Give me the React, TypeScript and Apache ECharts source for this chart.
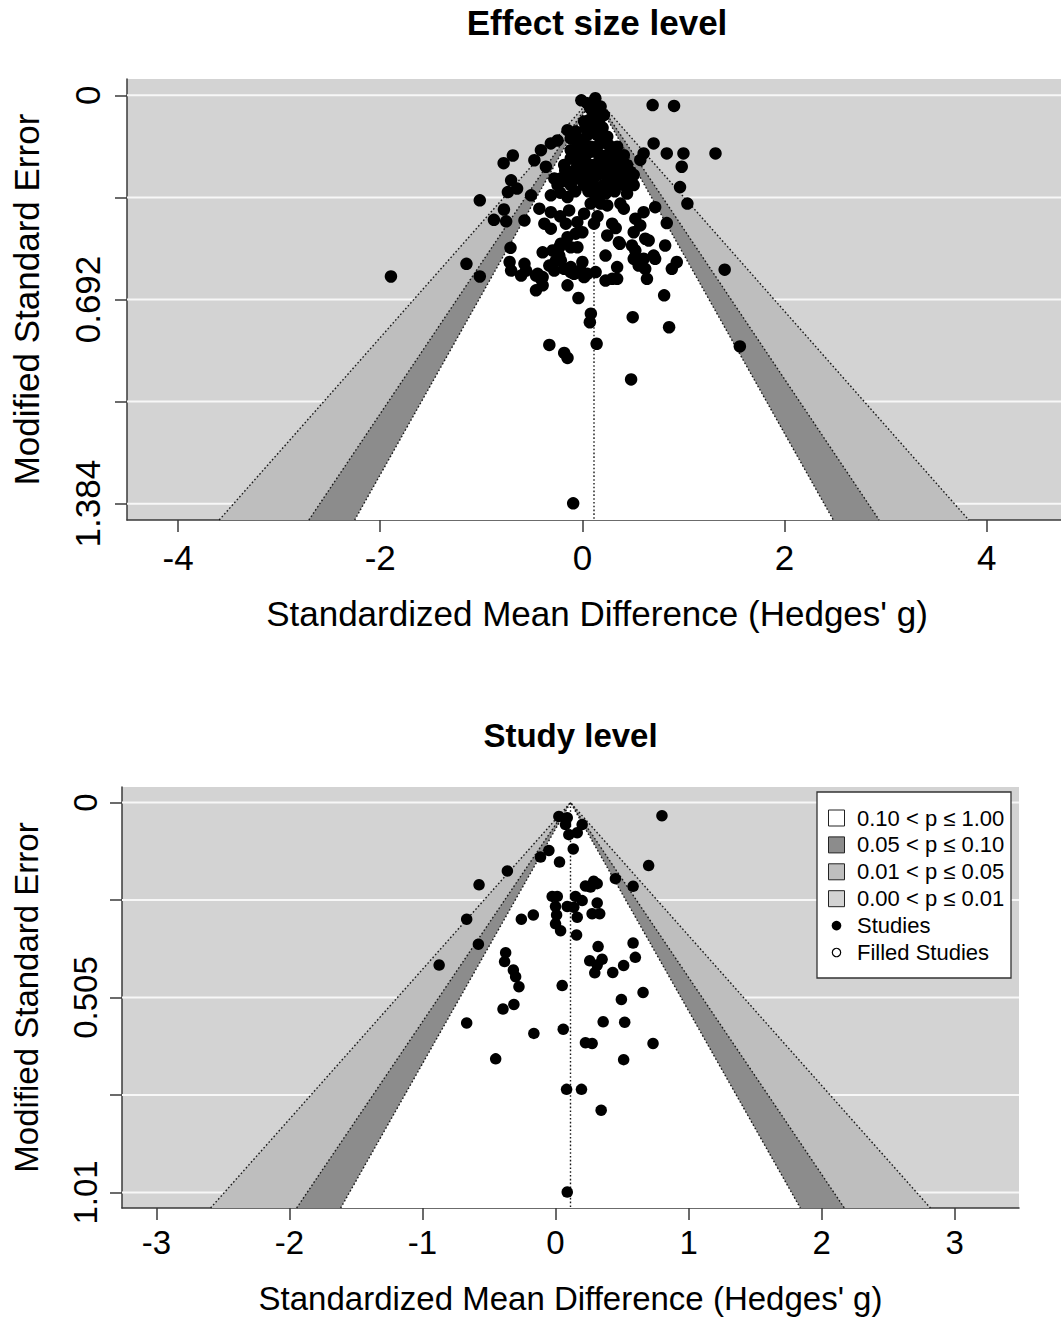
import React, { useEffect, useRef } from "react";
import * as echarts from "echarts";

const FONT = '"Liberation Sans", Arial, Helvetica, sans-serif';

// ---------- Panel 1: Effect size level ----------
const topTitle = "Effect size level";
const topCenter = 0.115;
const topSeMax = 1.384;
const topXTicks = [-4, -2, 0, 2, 4];
const topYTicks = [0, 0.346, 0.692, 1.038, 1.384];
const topYLabels = [0, 0.692, 1.384];
const topPoints: [number, number][] = [
  [0.695, 0.033], [0.907, 0.036], [0.705, 0.163], [0.835, 0.197], [1.0, 0.197], [1.317, 0.197], [0.983, 0.242], [0.966, 0.311], [1.039, 0.367], [0.835, 0.433], [0.606, 0.197], [0.573, 0.219],
  [0.72, 0.379], [0.606, 0.396], [0.524, 0.418], [0.573, 0.441], [0.442, 0.333], [0.376, 0.367], [0.41, 0.384], [0.295, 0.435], [0.246, 0.475], [0.361, 0.498], [0.508, 0.464], [0.491, 0.509], [0.524, 0.526], [0.622, 0.486], [0.656, 0.492], [0.508, 0.554], [0.606, 0.554], [0.705, 0.543], [0.557, 0.577], [0.622, 0.588], [0.639, 0.622], [0.819, 0.509], [0.934, 0.565], [0.885, 0.588], [0.229, 0.543], [0.344, 0.582], [0.295, 0.622], [0.344, 0.622], [0.115, 0.435], [0.131, 0.599], [0.72, 0.554], [0.371, 0.503],
  [-0.312, 0.339], [-0.508, 0.339], [-0.426, 0.384], [-0.312, 0.396], [-0.376, 0.435], [-0.312, 0.452], [-0.573, 0.424], [-0.147, 0.345], [-0.131, 0.39], [-0.164, 0.435], [-0.147, 0.481], [-0.115, 0.515], [-0.066, 0.469], [0.0, 0.464], [0.017, 0.401], [0.082, 0.367], [0.131, 0.345], [0.18, 0.367], [0.246, 0.373], [0.229, 0.333],
  [-0.393, 0.532], [-0.295, 0.526], [-0.229, 0.515], [-0.573, 0.571], [-0.557, 0.594], [-0.442, 0.605], [-0.393, 0.616], [-0.278, 0.594], [-0.18, 0.588], [-0.115, 0.599], [-0.017, 0.594], [0.017, 0.616], [-0.147, 0.644], [0.229, 0.628],
  [-0.688, 0.204], [-0.779, 0.23], [-0.475, 0.22], [-0.705, 0.288], [-0.737, 0.328], [-0.646, 0.316], [-1.015, 0.356], [-0.776, 0.387], [-0.875, 0.422], [-0.754, 0.427], [-0.711, 0.517], [-1.894, 0.614], [-1.147, 0.571], [-1.015, 0.614], [-0.72, 0.565], [-0.705, 0.594], [-0.606, 0.611], [-0.41, 0.622], [-0.459, 0.661], [-0.262, 0.56], [-0.327, 0.577], [-0.229, 0.543], [-0.393, 0.644],
  [-0.039, 0.687], [0.084, 0.74], [0.074, 0.769], [0.498, 0.752], [0.809, 0.678], [0.858, 0.786], [0.141, 0.842], [1.408, 0.591], [1.558, 0.851], [-0.327, 0.846], [-0.18, 0.873], [-0.147, 0.89], [0.482, 0.963], [-0.091, 1.383],
  [-0.213, 0.503], [-0.049, 0.515], [-0.213, 0.56], [-0.115, 0.582], [-0.082, 0.605], [0.0, 0.565], [0.049, 0.605], [-0.459, 0.611],
  [0.049, 0.027], [0.115, 0.021], [0.18, 0.038], [0.098, 0.05], [0.147, 0.067], [0.066, 0.084], [0.164, 0.089], [0.213, 0.067], [0.017, 0.089], [0.098, 0.118], [0.049, 0.135], [0.147, 0.135], [-0.147, 0.118], [-0.066, 0.123], [-0.115, 0.146], [0.246, 0.14], [0.262, 0.169], [0.344, 0.174], [0.41, 0.203], [-0.049, 0.169], [0.017, 0.169], [0.082, 0.174], [0.147, 0.174], [-0.115, 0.186], [-0.049, 0.197], [0.049, 0.197], [-0.18, 0.236], [-0.115, 0.214], [-0.049, 0.236], [0.049, 0.231], [0.115, 0.236], [0.18, 0.203], [0.246, 0.203], [0.312, 0.214], [0.344, 0.236], [0.442, 0.236], [0.475, 0.259], [0.278, 0.259], [0.213, 0.236],
  [-0.213, 0.282], [-0.131, 0.276], [-0.049, 0.282], [0.049, 0.276], [0.147, 0.27], [0.246, 0.282], [0.344, 0.276], [0.442, 0.282], [0.508, 0.27], [-0.246, 0.304], [-0.115, 0.304], [0.017, 0.304], [0.115, 0.304], [0.213, 0.304], [0.312, 0.304], [0.41, 0.304], [0.508, 0.304],
  [-0.312, 0.163], [-0.41, 0.186], [-0.361, 0.242], [-0.278, 0.282], [-0.01, 0.017], [0.128, 0.01], [-0.246, 0.153],
  [0.08, 0.045], [0.14, 0.1], [0.2, 0.11], [0.03, 0.11], [-0.03, 0.15], [0.2, 0.16], [0.3, 0.19], [0.1, 0.19], [0.0, 0.22], [0.17, 0.22], [0.28, 0.23], [0.38, 0.21], [-0.17, 0.255], [-0.08, 0.255], [0.0, 0.255], [0.09, 0.255], [0.19, 0.255], [0.29, 0.255], [0.39, 0.255], [0.47, 0.285], [-0.18, 0.29], [0.07, 0.29], [0.27, 0.29], [-0.07, 0.325], [0.06, 0.325], [0.17, 0.32], [0.32, 0.325], [-0.22, 0.33], [-0.22, 0.41], [0.15, 0.41], [0.33, 0.45], [-0.05, 0.43],
];

// ---------- Panel 2: Study level ----------
const botTitle = "Study level";
const botCenter = 0.1125;
const botSeMax = 1.01;
const botXTicks = [-3, -2, -1, 0, 1, 2, 3];
const botYTicks = [0, 0.2525, 0.505, 0.7575, 1.01];
const botYLabels = [0, 0.505, 1.01];
const botPoints: [number, number][] = [
  [0.8, 0.034], [0.025, 0.036], [0.088, 0.039], [0.075, 0.057], [0.2, 0.057], [0.1, 0.083], [0.163, 0.078], [0.133, 0.12], [-0.05, 0.124], [-0.113, 0.141],
  [0.03, 0.154], [0.7, 0.163], [-0.362, 0.177], [-0.575, 0.213], [0.45, 0.197], [0.583, 0.217], [0.225, 0.216], [0.287, 0.204], [0.313, 0.21], [0.263, 0.219],
  [-0.025, 0.243], [0.013, 0.243], [0.15, 0.243], [0.2, 0.254], [0.088, 0.269], [0.137, 0.271], [0.313, 0.26], [0.0, 0.269], [0.008, 0.291], [-0.668, 0.302],
  [-0.257, 0.302], [-0.167, 0.291], [0.163, 0.297], [0.275, 0.288], [0.332, 0.288], [0.0, 0.314], [0.038, 0.332], [0.158, 0.343], [-0.58, 0.367], [0.32, 0.373],
  [0.583, 0.364], [-0.375, 0.389], [-0.383, 0.412], [0.257, 0.41], [0.35, 0.406], [0.313, 0.421], [0.6, 0.401], [0.512, 0.422], [-0.875, 0.421], [0.295, 0.441],
  [0.43, 0.44], [-0.317, 0.434], [-0.3, 0.451], [-0.275, 0.477], [0.05, 0.474], [0.495, 0.51], [0.658, 0.492], [-0.313, 0.523], [-0.395, 0.535], [-0.668, 0.571],
  [0.358, 0.568], [0.52, 0.569], [0.058, 0.587], [-0.163, 0.598], [0.225, 0.622], [0.275, 0.624], [0.733, 0.624], [-0.45, 0.664], [0.512, 0.666], [0.083, 0.743],
  [0.195, 0.743], [0.343, 0.797], [0.088, 1.009],
];

// ---------- shared ----------
const xTitle = "Standardized Mean Difference (Hedges' g)";
const yTitle = "Modified Standard Error";
const levelNames = ["0.01 < p ≤ 0.05", "0.05 < p ≤ 0.10", "0.10 < p ≤ 1.00"];
const levelZ = [2.576, 1.96, 1.645];
const levelColors = ["#bebebe", "#8c8c8c", "#ffffff"];
const bgColor = "#d3d3d3";
const legendLabels = ["0.10 < p ≤ 1.00", "0.05 < p ≤ 0.10", "0.01 < p ≤ 0.05", "0.00 < p ≤ 0.01", "Studies", "Filled Studies"];
const legendFills = ["#ffffff", "#8c8c8c", "#bebebe", "#d3d3d3"];

const AXIS_COLOR = "#3a3a3a";
const DOT_DASH = [1.6, 2.2];
const DOT_COLOR = "#1a1a1a";

type PanelCfg = {
  gi: number;
  center: number;
  seMax: number;
  xTicks: number[];
  yTicks: number[];
  yLabels: number[];
  points: [number, number][];
  grid: { left: number; top: number; width: number; height: number };
  fontSize: number;
  pointSize: number;
  xLabelMargin: number;
  yLabelMargin: number;
  tickLen: number;
};

function buildPanel(cfg: PanelCfg) {
  const { gi, center, seMax } = cfg;
  const half = levelZ[0] * seMax * 1.2 * 1.08;
  const xMin = center - half;
  const xMax = center + half;
  const yMin = -0.04 * seMax;
  const yMax = 1.04 * seMax;

  const grid = {
    ...cfg.grid,
    show: true,
    backgroundColor: bgColor,
    borderWidth: 0,
    containLabel: false,
  };

  const xAxis = {
    gridIndex: gi,
    type: "value",
    min: xMin,
    max: xMax,
    axisLine: { show: true, onZero: false, lineStyle: { color: AXIS_COLOR, width: 1.5 } },
    axisTick: { show: true, customValues: cfg.xTicks, length: cfg.tickLen, lineStyle: { color: AXIS_COLOR, width: 1.5 } },
    axisLabel: {
      customValues: cfg.xTicks,
      fontSize: cfg.fontSize,
      fontFamily: FONT,
      color: "#000",
      margin: cfg.xLabelMargin,
      formatter: (v: number) => String(v),
    },
    splitLine: { show: false },
  };

  const yAxis = {
    gridIndex: gi,
    type: "value",
    inverse: true,
    min: yMin,
    max: yMax,
    axisLine: { show: true, onZero: false, lineStyle: { color: AXIS_COLOR, width: 1.5 } },
    axisTick: { show: true, customValues: cfg.yTicks, length: cfg.tickLen, lineStyle: { color: AXIS_COLOR, width: 1.5 } },
    axisLabel: {
      customValues: cfg.yLabels,
      rotate: 90,
      fontSize: cfg.fontSize,
      fontFamily: FONT,
      color: "#000",
      margin: cfg.yLabelMargin,
      formatter: (v: number) => String(v),
    },
    splitLine: { show: false },
  };

  const series: any[] = [];

  // white horizontal reference lines at the y ticks
  series.push({
    type: "custom",
    xAxisIndex: gi,
    yAxisIndex: gi,
    z: 1,
    silent: true,
    data: cfg.yTicks.map((v) => [center, v]),
    encode: { x: 0, y: 1 },
    renderItem: (params: any, api: any) => {
      const cs = params.coordSys;
      const p = api.coord([center, api.value(1)]);
      return {
        type: "line",
        shape: { x1: cs.x, y1: p[1], x2: cs.x + cs.width, y2: p[1] },
        style: { stroke: "#f7f7f7", lineWidth: 2 },
      };
    },
  });

  // funnel regions
  levelZ.forEach((z, i) => {
    series.push({
      type: "custom",
      name: levelNames[i],
      xAxisIndex: gi,
      yAxisIndex: gi,
      z: 2 + i,
      silent: true,
      data: [[center, 0, z]],
      encode: { x: 0, y: 1 },
      renderItem: (params: any, api: any) => {
        const c = api.value(0);
        const zz = api.value(2);
        const a = api.coord([c - zz * yMax, yMax]);
        const t = api.coord([c, 0]);
        const b = api.coord([c + zz * yMax, yMax]);
        return {
          type: "group",
          children: [
            { type: "polygon", shape: { points: [a, t, b] }, style: { fill: levelColors[i], stroke: null } },
            {
              type: "polyline",
              shape: { points: [a, t, b] },
              style: { fill: null, stroke: DOT_COLOR, lineWidth: 1.4, lineDash: DOT_DASH },
            },
          ],
        };
      },
    });
  });

  // reference (centre) line
  series.push({
    type: "custom",
    xAxisIndex: gi,
    yAxisIndex: gi,
    z: 6,
    silent: true,
    data: [[center, 0]],
    encode: { x: 0, y: 1 },
    renderItem: (params: any, api: any) => {
      const c = api.value(0);
      const p1 = api.coord([c, 0]);
      const p2 = api.coord([c, yMax]);
      return {
        type: "line",
        shape: { x1: p1[0], y1: p1[1], x2: p2[0], y2: p2[1] },
        style: { stroke: DOT_COLOR, lineWidth: 1.4, lineDash: DOT_DASH },
      };
    },
  });

  // studies
  series.push({
    type: "scatter",
    name: "Studies",
    xAxisIndex: gi,
    yAxisIndex: gi,
    z: 10,
    symbol: "circle",
    symbolSize: cfg.pointSize,
    itemStyle: { color: "#000", opacity: 1 },
    data: cfg.points,
    silent: true,
  });

  return { grid, xAxis, yAxis, series };
}

export default function App() {
  const ref = useRef<HTMLDivElement>(null);

  useEffect(() => {
    document.body.style.margin = "0";
    if (!ref.current) return;
    const chart = echarts.init(ref.current, undefined, { renderer: "svg" });

    const p1 = buildPanel({
      gi: 0,
      center: topCenter,
      seMax: topSeMax,
      xTicks: topXTicks,
      yTicks: topYTicks,
      yLabels: topYLabels,
      points: topPoints,
      grid: { left: 127, top: 79, width: 940, height: 441 },
      fontSize: 35,
      pointSize: 12.5,
      xLabelMargin: 20,
      yLabelMargin: 22,
      tickLen: 12,
    });
    const p2 = buildPanel({
      gi: 1,
      center: botCenter,
      seMax: botSeMax,
      xTicks: botXTicks,
      yTicks: botYTicks,
      yLabels: botYLabels,
      points: botPoints,
      grid: { left: 122, top: 787, width: 897, height: 421 },
      fontSize: 33,
      pointSize: 11.5,
      xLabelMargin: 18,
      yLabelMargin: 20,
      tickLen: 12,
    });

    const t1x = 127 + 940 / 2;
    const t2x = 122 + 897 / 2;

    const textEl = (text: string, x: number, y: number, size: number, bold = false, rot = 0) => ({
      type: "text",
      x,
      y,
      z: 100,
      rotation: rot,
      silent: true,
      style: {
        text,
        fill: "#000",
        font: `${bold ? "bold " : ""}${size}px ${FONT}`,
        fontSize: size,
        fontWeight: bold ? "bold" : "normal",
        fontFamily: FONT,
        align: "center",
        verticalAlign: "middle",
        textAlign: "center",
        textVerticalAlign: "middle",
      },
    });

    // legend (Study level panel)
    const lgX = 817;
    const lgY = 792;
    const lgW = 194;
    const lgH = 186;
    const rowY0 = 818;
    const rowStep = 26.9;
    const legendChildren: any[] = [
      { type: "rect", z: 100, shape: { x: lgX, y: lgY, width: lgW, height: lgH }, style: { fill: "#fff", stroke: "#333", lineWidth: 1.3 } },
    ];
    legendLabels.forEach((lab, i) => {
      const cy = rowY0 + i * rowStep;
      if (i < legendFills.length) {
        legendChildren.push({
          type: "rect",
          z: 101,
          shape: { x: 828.5, y: cy - 8, width: 16, height: 16 },
          style: { fill: legendFills[i], stroke: "#222", lineWidth: 1 },
        });
      } else if (lab === "Studies") {
        legendChildren.push({ type: "circle", z: 101, shape: { cx: 836.5, cy, r: 4.8 }, style: { fill: "#000" } });
      } else {
        legendChildren.push({ type: "circle", z: 101, shape: { cx: 836.5, cy, r: 4.2 }, style: { fill: "#fff", stroke: "#000", lineWidth: 1.2 } });
      }
      legendChildren.push({
        type: "text",
        z: 101,
        x: 857,
        y: cy,
        silent: true,
        style: {
          text: lab,
          fill: "#000",
          font: `22px ${FONT}`,
          fontSize: 22,
          fontFamily: FONT,
          align: "left",
          verticalAlign: "middle",
          textAlign: "left",
          textVerticalAlign: "middle",
        },
      });
    });

    const option: any = {
      animation: false,
      backgroundColor: "#ffffff",
      grid: [p1.grid, p2.grid],
      xAxis: [p1.xAxis, p2.xAxis],
      yAxis: [p1.yAxis, p2.yAxis],
      series: [...p1.series, ...p2.series],
      graphic: {
        z: 100,
        elements: [
          textEl(topTitle, t1x, 22, 35, true),
          textEl(xTitle, t1x, 613, 35),
          textEl(yTitle, 26, 79 + 441 / 2, 35, false, Math.PI / 2),
          textEl(botTitle, t2x, 735, 33, true),
          textEl(xTitle, t2x, 1298, 33),
          textEl(yTitle, 26, 787 + 421 / 2, 33, false, Math.PI / 2),
          ...legendChildren,
        ],
      },
    };

    chart.setOption(option);
    return () => chart.dispose();
  }, []);

  return <div ref={ref} style={{ width: 1061, height: 1319 }} />;
}
